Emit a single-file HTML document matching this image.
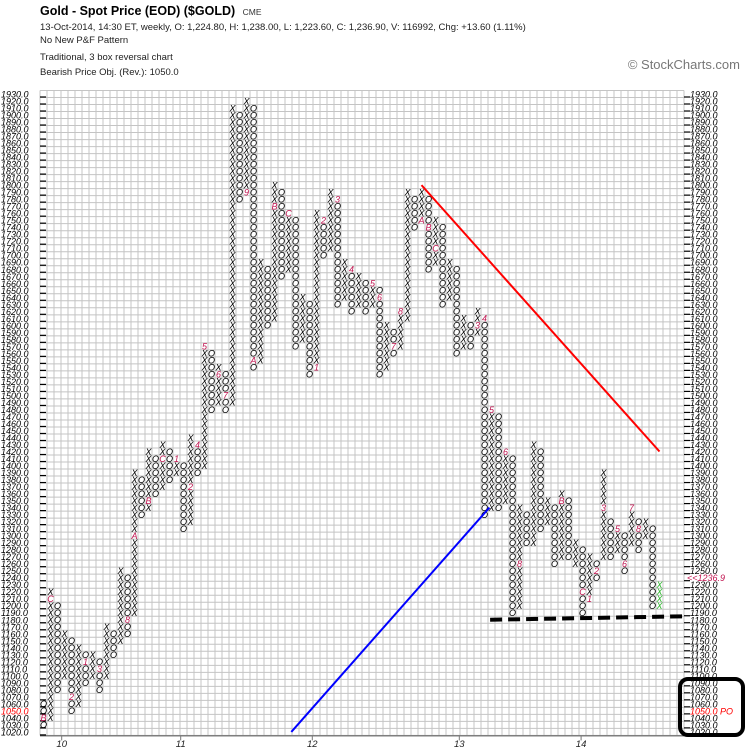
<!DOCTYPE html>
<html><head><meta charset="utf-8"><style>
html,body{margin:0;padding:0;background:#fff;}
svg{display:block;font-family:"Liberation Sans",Arial,sans-serif;}
</style></head><body>
<svg id="chart" width="745" height="755" viewBox="0 0 745 755" xmlns="http://www.w3.org/2000/svg">
<g>
<text x="40" y="15" font-size="12.5" font-weight="bold" fill="#000">Gold - Spot Price (EOD) ($GOLD) <tspan font-size="8.5" font-weight="normal" fill="#333" dx="4">CME</tspan></text>
<text x="40" y="30" font-size="9.5" fill="#222">13-Oct-2014, 14:30 ET, weekly, O: 1,224.80, H: 1,238.00, L: 1,223.60, C: 1,236.90, V: 116992, Chg: +13.60 (1.11%)</text>
<text x="40" y="43" font-size="9.5" fill="#222">No New P&amp;F Pattern</text>
<text x="40" y="60" font-size="9.5" fill="#222">Traditional, 3 box reversal chart</text>
<text x="40" y="75" font-size="9.5" fill="#222">Bearish Price Obj. (Rev.): 1050.0</text>
<text x="740" y="69" font-size="13" fill="#777" text-anchor="end">© StockCharts.com</text>
</g>
<g id="grid"></g>
<g id="axes"></g>
<g id="marks"></g>
<g id="lines"></g>
<rect x="680" y="679" width="63" height="56" rx="8" fill="none" stroke="#000" stroke-width="4"/>
</svg>
<script>
// ---- data ----
const colTypes = ["O","X","O","X","O","X","O","X","O","X","O","X","O","X","O","X","O","X","O","X","O","X","O","X","O","X","O","X","O","X","O","X","O","X","O","X","O","X","O","X","O","X","O","X","O","X","O","X","O","X","O","X","X","O","X","O","X","O","X","O","X","O","X","O","X","O","X","O","X","O","X","O","X","O","X","O","X","O","X","O","X","O","X","O","X","O","X","O","X"];
const colLows  = [1030,1040,1080,1100,1050,1060,1090,1100,1080,1100,1130,1150,1160,1190,1330,1340,1360,1370,1380,1390,1310,1320,1390,1400,1480,1490,1480,1490,1780,1790,1540,1550,1600,1610,1670,1680,1570,1580,1530,1540,1700,1710,1630,1640,1620,1630,1620,1630,1530,1540,1560,1570,1610,1740,1750,1680,1690,1630,1640,1560,1570,1570,1590,1330,1340,1340,1350,1190,1200,1290,1290,1310,1320,1260,1270,1270,1260,1190,1210,1240,1270,1270,1280,1250,1290,1280,1300,1200,1200];
const colHighs = [1060,1220,1200,1160,1150,1140,1130,1130,1120,1170,1160,1250,1240,1390,1380,1420,1410,1430,1420,1410,1400,1440,1430,1570,1560,1540,1530,1910,1900,1920,1910,1690,1680,1800,1790,1760,1750,1640,1630,1760,1750,1790,1780,1690,1680,1670,1660,1660,1650,1600,1590,1620,1790,1780,1790,1780,1750,1740,1690,1680,1610,1600,1620,1610,1480,1470,1420,1410,1340,1330,1430,1420,1350,1340,1360,1350,1290,1280,1270,1260,1390,1320,1310,1300,1340,1320,1320,1310,1230];
const monthCols   = [0,1,4,6,8,9,12,13,15,17,19,21,22,23,25,26,27,29,30,31,33,35,39,40,42,44,47,48,50,51,53,54,55,56,62,63,64,66,68,69,71,74,77,78,79,80,82,83,84,85,87];
const monthPrices = [1040,1210,1070,1120,1110,1260,1180,1300,1350,1410,1410,1370,1430,1570,1530,1500,1480,1790,1550,1540,1770,1760,1540,1750,1780,1680,1660,1640,1570,1620,1730,1750,1740,1710,1600,1610,1480,1420,1260,1190,1430,1350,1220,1210,1250,1340,1310,1260,1340,1310,1190];
const monthLabels = ["B","C","2","1","3","9","8","A","B","C","1","2","4","5","6","7","7","9","A","8","B","C","1","2","3","4","5","6","7","8","9","A","B","C","3","4","5","6","8","7","9","B","C","1","2","3","5","6","7","8","A"];
const leftTickValues = [1930,1920,1910,1900,1890,1880,1870,1860,1850,1840,1830,1820,1810,1800,1790,1780,1770,1760,1750,1740,1730,1720,1710,1700,1690,1680,1670,1660,1650,1640,1630,1620,1610,1600,1590,1580,1570,1560,1550,1540,1530,1520,1510,1500,1490,1480,1470,1460,1450,1440,1430,1420,1410,1400,1390,1380,1370,1360,1350,1340,1330,1320,1310,1300,1290,1280,1270,1260,1250,1240,1230,1220,1210,1200,1190,1180,1170,1160,1150,1140,1130,1120,1110,1100,1090,1080,1070,1060,1050,1040,1030,1020];
const yearLabels = ["10","11","12","13","14"];
const yearCols = [3.1,20.1,38.9,59.9,77.3];
const lastPrice = 1236.9;
const priceObjective = 1050;
const redLine = [[54.5,1800],[88.5,1420]];
const blueLine = [[35.9,1020],[64.2,1340]];
const supportLine = [[64.3,1180],[92.5,1185]];

// ---- scales ----
const X0 = 40, CW = 7, Y0 = 94, RH = 0.701;
function xCol(c){ return X0 + c*CW + CW/2; }
function yP(p){ return Y0 + (1930 - p)*RH; }
const NS = "http://www.w3.org/2000/svg";
function mk(tag, attrs, parent){ const e = document.createElementNS(NS, tag); for (const k in attrs) e.setAttribute(k, attrs[k]); parent.appendChild(e); return e; }

// grid
const grid = document.getElementById('grid');
for (let i = 0; i <= 92; i++) {
  const gl = mk('line', {x1: X0+i*CW, x2: X0+i*CW, y1: yP(1935), y2: yP(1015), stroke: '#c4c4c4', 'stroke-width': 1}, grid);
  
  
}
for (let p = 1935; p >= 1015; p -= 10) {
  const gl = mk('line', {x1: X0, x2: X0+92*CW, y1: yP(p), y2: yP(p), stroke: '#c4c4c4', 'stroke-width': 1}, grid);
  
  
}

// axes
const axes = document.getElementById('axes');
const ax = mk('line', {x1: X0, x2: X0+92*CW, y1: yP(1015)+0.5, y2: yP(1015)+0.5, stroke: '#555', 'stroke-width': 1}, axes);


leftTickValues.forEach(v => {
  const y = yP(v);
  const red = (v === priceObjective);
  const lt = mk('text', {x: 1, y: y+3.5, 'font-size': 9, 'font-style': 'italic', fill: red ? '#f00' : '#000'}, axes);
  lt.textContent = v.toFixed(1);
  
  
  const tk = mk('line', {x1: X0, x2: X0+6, y1: y+3, y2: y+3, stroke: '#000', 'stroke-width': 1.2}, axes);
  
  
  const rx = X0 + 92*CW;
  const tk2 = mk('line', {x1: rx, x2: rx+6, y1: y+3, y2: y+3, stroke: '#000', 'stroke-width': 1.2}, axes);
  
  
  let label = v.toFixed(1), col = '#000';
  if (v === Math.round(lastPrice/10)*10) { label = '<<' + lastPrice.toFixed(1); col = '#c0134f'; }
  if (red) { label = v.toFixed(1) + ' PO'; col = '#f00'; }
  const rt = mk('text', {x: rx + (label.startsWith('<<') ? 3 : 6), y: y+3.5, 'font-size': 9, 'font-style': 'italic', fill: col}, axes);
  rt.textContent = label;
  
  
});
yearLabels.forEach((lab, i) => {
  const x = X0 + yearCols[i]*CW;
  const t = mk('line', {x1: x, x2: x, y1: yP(1015)+1, y2: yP(1015)+5, stroke: '#777'}, axes);
  
  
  const tx = mk('text', {x: x, y: 747, 'font-size': 9.5, 'font-style': 'italic', fill: '#222', 'text-anchor': 'middle'}, axes);
  tx.textContent = lab;
  
  
});

// P&F columns
const marks = document.getElementById('marks');
const monthMap = {};
monthCols.forEach((c, i) => { monthMap[c + ':' + monthPrices[i]] = monthLabels[i]; });
const lastIdx = colTypes.length - 1;
colTypes.forEach((t, c) => {
  for (let p = colLows[c]; p <= colHighs[c]; p += 10) {
    const key = c + ':' + p;
    const isMonth = key in monthMap;
    const fill = isMonth ? '#c0134f' : (c === lastIdx ? '#2bb52b' : '#000');
    const g = mk('text', {x: xCol(c), y: yP(p)+3.3, 'font-size': 9, 'font-style': 'italic', 'text-anchor': 'middle', fill: fill}, marks);
    g.textContent = isMonth ? monthMap[key] : t;
    
    
  }
});

// trend lines
const lines = document.getElementById('lines');
function seg(pts, color, w, dash, name){
  const a = {x1: X0+pts[0][0]*CW, y1: yP(pts[0][1]), x2: X0+pts[1][0]*CW, y2: yP(pts[1][1]), stroke: color, 'stroke-width': w};
  if (dash) a['stroke-dasharray'] = dash;
  const l = mk('line', a, lines);
  
  
}
seg(redLine, '#f00', 2, null, 'resistance-line');
seg(blueLine, '#00f', 2, null, 'support-trend-line');
seg(supportLine, '#000', 4, '12,6', 'horizontal-support-line');
</script>
</body></html>
